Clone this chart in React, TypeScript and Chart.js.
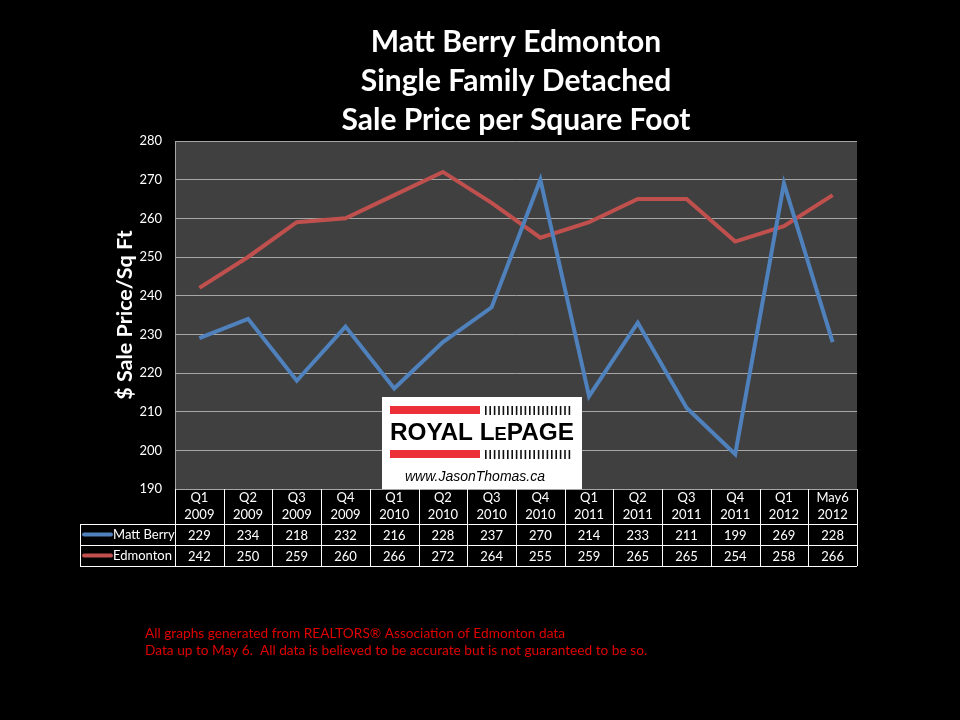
import React, { useEffect, useRef } from "react";
import { Chart, registerables } from "chart.js";

Chart.register(...registerables);

const quarterLabels = ["Q1", "Q2", "Q3", "Q4", "Q1", "Q2", "Q3", "Q4", "Q1", "Q2", "Q3", "Q4", "Q1", "May6"];
const yearLabels = ["2009", "2009", "2009", "2009", "2010", "2010", "2010", "2010", "2011", "2011", "2011", "2011", "2012", "2012"];
const mattBerry = [229, 234, 218, 232, 216, 228, 237, 270, 214, 233, 211, 199, 269, 228];
const edmonton = [242, 250, 259, 260, 266, 272, 264, 255, 259, 265, 265, 254, 258, 266];
const seriesNames = ["Matt Berry", "Edmonton"];
const seriesColors = ["#4f81bd", "#c0504d"];
const yMin = 190;
const yMax = 280;
const yStep = 10;
const titleLines = ["Matt Berry Edmonton", "Single Family Detached", "Sale Price per Square Foot"];
const yTitle = "$ Sale Price/Sq Ft";
const footnotes = [
  "All graphs generated from REALTORS® Association of Edmonton data",
  "Data up to May 6.  All data is believed to be accurate but is not guaranteed to be so.",
];

const FONT = "Lato, 'Open Sans', sans-serif";

const decorPlugin = {
  id: "decor",
  beforeDraw(chart: any) {
    const { ctx, chartArea } = chart;
    ctx.save();
    ctx.fillStyle = "#000";
    ctx.fillRect(0, 0, chart.width, chart.height);
    ctx.fillStyle = "#404040";
    ctx.fillRect(chartArea.left, chartArea.top, chartArea.right - chartArea.left, chartArea.bottom - chartArea.top);
    ctx.restore();
  },
  afterDraw(chart: any) {
    const { ctx, chartArea } = chart;
    const xs = chart.scales.x;
    const n = quarterLabels.length;
    const colW = (chartArea.right - chartArea.left) / n;
    ctx.save();

    // Title
    ctx.fillStyle = "#fff";
    ctx.textAlign = "center";
    ctx.textBaseline = "middle";
    ctx.font = `bold 30px ${FONT}`;
    const cx = (chartArea.left + chartArea.right) / 2;
    titleLines.forEach((t, i) => ctx.fillText(t, cx, 42 + i * 39));

    // Y axis title
    ctx.save();
    ctx.translate(125, (chartArea.top + chartArea.bottom) / 2);
    ctx.rotate(-Math.PI / 2);
    ctx.font = `bold 21.5px ${FONT}`;
    ctx.fillText(yTitle, 0, 0);
    ctx.restore();

    // Data table
    const top = chartArea.bottom;
    const r1 = top + 35;
    const r2 = r1 + 21;
    const r3 = r2 + 21;
    const tableLeft = 80;
    ctx.strokeStyle = "#fff";
    ctx.lineWidth = 1;
    ctx.beginPath();
    for (let i = 0; i <= n; i++) {
      const x = Math.round(chartArea.left + i * colW) + 0.5;
      ctx.moveTo(x, top);
      ctx.lineTo(x, r3);
    }
    [r1, r2, r3].forEach((y) => {
      ctx.moveTo(tableLeft, Math.round(y) + 0.5);
      ctx.lineTo(chartArea.right, Math.round(y) + 0.5);
    });
    ctx.moveTo(tableLeft + 0.5, r1);
    ctx.lineTo(tableLeft + 0.5, r3);
    ctx.stroke();

    ctx.fillStyle = "#fff";
    ctx.font = `13px ${FONT}`;
    ctx.textAlign = "center";
    for (let i = 0; i < n; i++) {
      const x = xs.getPixelForValue(i);
      ctx.fillText(quarterLabels[i], x, top + 9);
      ctx.fillText(yearLabels[i], x, top + 26);
      ctx.fillText(String(mattBerry[i]), x, (r1 + r2) / 2 + 1);
      ctx.fillText(String(edmonton[i]), x, (r2 + r3) / 2 + 1);
    }
    // legend keys in table
    [r1, r2].forEach((ry, k) => {
      const y = ry + 10.5;
      ctx.strokeStyle = seriesColors[k];
      ctx.lineWidth = 4;
      ctx.lineCap = "round";
      ctx.beginPath();
      ctx.moveTo(84, y);
      ctx.lineTo(111, y);
      ctx.stroke();
      ctx.fillStyle = "#fff";
      ctx.textAlign = "left";
      ctx.fillText(seriesNames[k], 113, y + 0.5);
    });

    // Footnotes
    ctx.fillStyle = "#e00000";
    ctx.font = `13.7px ${FONT}`;
    ctx.textAlign = "left";
    footnotes.forEach((t, i) => ctx.fillText(t, 145, 634 + i * 17));

    ctx.restore();
  },
  afterDatasetsDraw(chart: any) {
    const { ctx } = chart;
    ctx.save();
    // Logo box
    const bx = 382, by = 397, bw = 200, bh = 92;
    ctx.fillStyle = "#fff";
    ctx.fillRect(bx, by, bw, bh);
    ctx.fillStyle = "#ed2f3a";
    ctx.fillRect(390, 406, 90, 8);
    ctx.fillRect(390, 450, 90, 8);
    ctx.fillStyle = "#111";
    for (let i = 0; i < 20; i++) {
      const x = 485 + i * 4.4;
      ctx.fillRect(x, 406, 1.6, 9);
      ctx.fillRect(x, 450, 1.6, 9);
    }
    // ROYAL LEPAGE text
    ctx.fillStyle = "#000";
    ctx.textBaseline = "alphabetic";
    ctx.textAlign = "left";
    const big = "bold 24px 'Liberation Sans', Arial, sans-serif";
    const small = "bold 18px 'Liberation Sans', Arial, sans-serif";
    const parts: [string, string][] = [["ROYAL L", big], ["E", small], ["PAGE", big]];
    let total = 0;
    parts.forEach(([t, f]) => { ctx.font = f; total += ctx.measureText(t).width; });
    const sx = 184 / total;
    ctx.save();
    ctx.translate(390, 440);
    ctx.scale(sx, 1);
    let px = 0;
    parts.forEach(([t, f]) => { ctx.font = f; ctx.fillText(t, px, 0); px += ctx.measureText(t).width; });
    ctx.restore();
    ctx.font = "italic 14px 'Liberation Sans', Arial, sans-serif";
    ctx.textAlign = "center";
    ctx.fillText("www.JasonThomas.ca", 475, 481);
    ctx.restore();
  },
};

export default function App() {
  const ref = useRef<HTMLCanvasElement>(null);
  useEffect(() => {
    if (!ref.current) return;
    const chart = new Chart(ref.current, {
      type: "line",
      data: {
        labels: quarterLabels.map((q, i) => `${q} ${yearLabels[i]}`),
        datasets: [
          { label: seriesNames[0], data: mattBerry, borderColor: seriesColors[0], backgroundColor: seriesColors[0], borderWidth: 4, pointRadius: 0, tension: 0 },
          { label: seriesNames[1], data: edmonton, borderColor: seriesColors[1], backgroundColor: seriesColors[1], borderWidth: 4, pointRadius: 0, tension: 0 },
        ],
      },
      options: {
        responsive: false,
        animation: false,
        layout: { padding: { left: 0, top: 141, right: 103, bottom: 231 } },
        plugins: { legend: { display: false }, title: { display: false }, tooltip: { enabled: false } },
        scales: {
          x: { display: false, offset: true },
          y: {
            min: yMin,
            max: yMax,
            afterFit: (s: any) => { s.width = 175; },
            ticks: { stepSize: yStep, color: "#fff", font: { family: FONT, size: 13 }, padding: 13 },
            grid: { color: "#a6a6a6", drawTicks: false },
            border: { color: "#a6a6a6" },
          },
        },
      },
      plugins: [decorPlugin],
    });
    return () => chart.destroy();
  }, []);
  return (
    <div style={{ position: "fixed", left: 0, top: 0, width: 960, height: 720, background: "#000" }}>
      <canvas ref={ref} width={960} height={720} style={{ width: 960, height: 720, display: "block" }} />
    </div>
  );
}
